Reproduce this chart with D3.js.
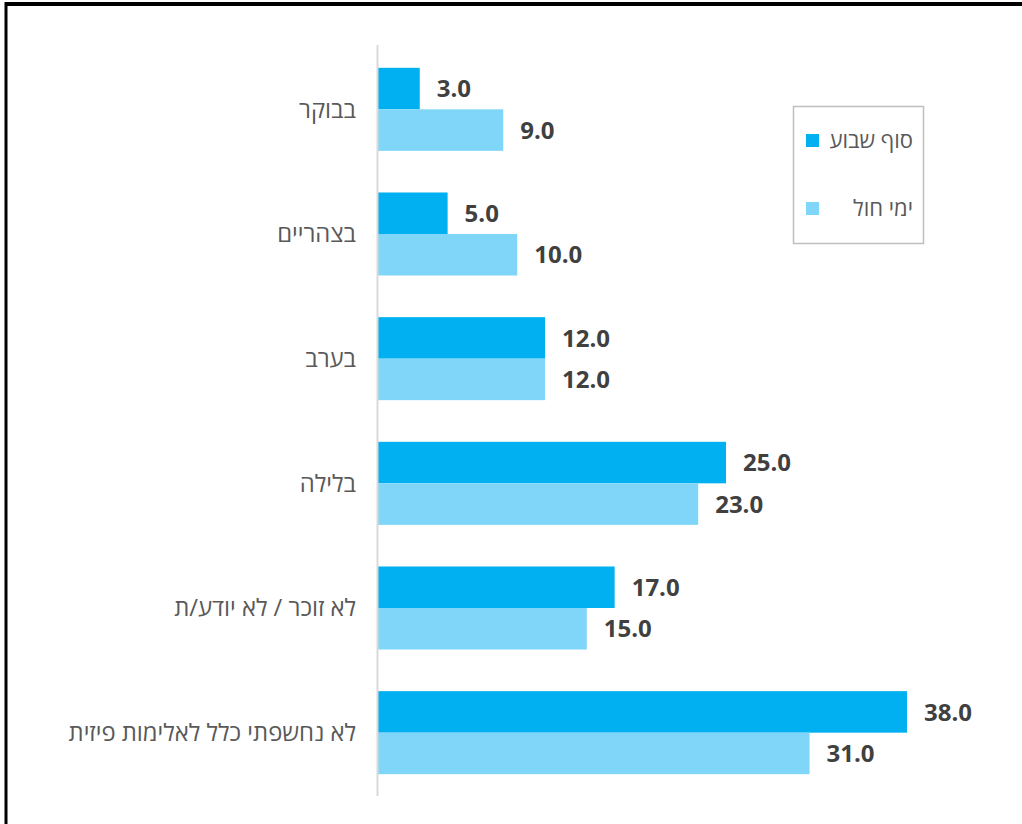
<!DOCTYPE html>
<html><head><meta charset="utf-8">
<script src="https://cdn.jsdelivr.net/npm/d3@7"></script>
<style>body{margin:0;background:#fff}svg{display:block}</style>
</head><body>
<script>
const categories = ["בבוקר","בצהריים","בערב","בלילה","לא זוכר / לא יודע/ת","לא נחשפתי כלל לאלימות פיזית"];
const weekend = [3,5,12,25,17,38];
const weekdays = [9,10,12,23,15,31];
const seriesNames = ["סוף שבוע","ימי חול"];
const colors = ["#00B0F0","#7FD6F8"];

const W=1022,H=824;
const FONT="'Open Sans', 'DejaVu Sans', sans-serif";
const svg=d3.select("body").append("svg").attr("width",W).attr("height",H);
svg.append("rect").attr("width",W).attr("height",H).attr("fill","#fff");
// outer border
svg.append("line").attr("x1",5).attr("x2",W).attr("y1",4).attr("y2",4).attr("stroke","#000").attr("stroke-width",4);
svg.append("line").attr("x1",6).attr("x2",6).attr("y1",2).attr("y2",H).attr("stroke","#000").attr("stroke-width",3);

const x0=378;
const x=d3.scaleLinear().domain([0,38]).range([x0,x0+529]);
const y=d3.scaleBand().domain(categories).range([47,795]).paddingInner(0.334).paddingOuter(0.167);
const y1=d3.scaleBand().domain([0,1]).range([0,y.bandwidth()]);

const series=[weekend,weekdays];
series.forEach((vals,si)=>{
  const g=svg.append("g");
  g.selectAll("rect").data(vals).join("rect")
    .attr("x",x(0)).attr("y",(d,i)=>y(categories[i])+y1(si))
    .attr("width",d=>x(d)-x(0)).attr("height",y1.bandwidth())
    .attr("fill",colors[si]);
  g.selectAll("text").data(vals).join("text")
    .attr("x",d=>x(d)+17).attr("y",(d,i)=>y(categories[i])+y1(si)+y1.bandwidth()/2)
    .attr("dy","0.36em")
    .attr("font-family",FONT).attr("font-weight","bold")
    .attr("font-size",24).attr("fill","#404040")
    .text(d=>d3.format(".1f")(d));
});

// axis line
svg.append("line").attr("x1",x0-0.5).attr("x2",x0-0.5).attr("y1",45).attr("y2",796).attr("stroke","#d9d9d9").attr("stroke-width",2);

// category labels
svg.append("g").selectAll("text").data(categories).join("text")
  .attr("x",356).attr("y",d=>y(d)+y.bandwidth()/2).attr("dy","0.35em")
  .attr("text-anchor","start").attr("direction","rtl")
  .attr("font-family",FONT).attr("font-size",23.8).attr("fill","#595959")
  .text(d=>d);

// legend
svg.append("rect").attr("x",793.5).attr("y",106.5).attr("width",130).attr("height",137)
  .attr("fill","#fff").attr("stroke","#bfbfbf").attr("stroke-width",1.5);
const ly=[140,208];
seriesNames.forEach((n,i)=>{
  svg.append("rect").attr("x",806).attr("y",ly[i]-6).attr("width",13).attr("height",13).attr("fill",colors[i]);
  svg.append("text").attr("x",913).attr("y",ly[i]).attr("dy","0.35em")
    .attr("text-anchor","start").attr("direction","rtl")
    .attr("font-family",FONT).attr("font-size",22).attr("fill","#595959")
    .text(n);
});
</script>
</body></html>
